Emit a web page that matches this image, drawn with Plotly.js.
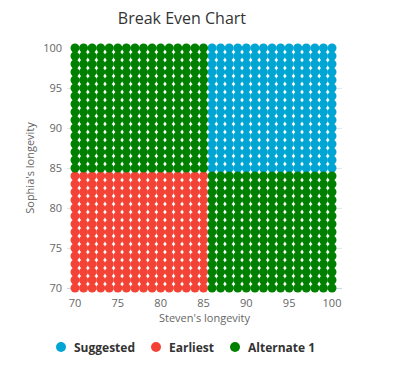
<!DOCTYPE html>
<html>
<head>
<meta charset="utf-8">
<script src="https://cdn.plot.ly/plotly-3.0.1.min.js"></script>
<style>html,body{margin:0;padding:0;background:#fff;}#chart{width:393px;height:382px;}</style>
</head>
<body>
<div id="chart"></div>
<script>
// Steven's longevity values (x) and Sophia's longevity values (y)
var stevenAges = [70,71,72,73,74,75,76,77,78,79,80,81,82,83,84,85,86,87,88,89,90,91,92,93,94,95,96,97,98,99,100];
var sophiaAges = [70,71,72,73,74,75,76,77,78,79,80,81,82,83,84,85,86,87,88,89,90,91,92,93,94,95,96,97,98,99,100];
// break-even boundaries
var earliestMaxSteven = 85;
var earliestMaxSophia = 84;
var seriesNames = ["Suggested", "Earliest", "Alternate 1"];
var seriesColors = ["#00a5d4", "#f34336", "#008000"];
var xTicks = [70,75,80,85,90,95,100];
var yTicks = [70,75,80,85,90,95,100];

var pts = {0:{x:[],y:[]},1:{x:[],y:[]},2:{x:[],y:[]}};
stevenAges.forEach(function(sx){
  sophiaAges.forEach(function(sy){
    var k;
    if (sx > earliestMaxSteven && sy > earliestMaxSophia) k = 0;
    else if (sx <= earliestMaxSteven && sy <= earliestMaxSophia) k = 1;
    else k = 2;
    pts[k].x.push(sx); pts[k].y.push(sy);
  });
});

var font = "Open Sans, DejaVu Sans, sans-serif";
var traces = [0,1,2].map(function(k){
  return {
    type: "scatter", mode: "markers",
    name: seriesNames[k],
    x: pts[k].x, y: pts[k].y,
    cliponaxis: false,
    marker: {color: seriesColors[k], size: 9, line: {width: 0}},
    hoverinfo: "x+y+name"
  };
});

// legend drawn as shapes + annotations (positions in pixels of the 393x382 page)
var W = 393, H = 382, ML = 67, MR = 51, MT = 48, MB = 94;
var pw = W - ML - MR, ph = H - MT - MB;
var legendDotX = [61, 156, 235];
var legendY = 347;
function px2paperX(p){ return (p - ML) / pw; }
function px2paperY(p){ return (H - MB - p) / ph; }
var shapes = [], annotations = [];
seriesNames.forEach(function(n, i){
  shapes.push({type: "circle", xref: "paper", yref: "paper", xsizemode: "pixel", ysizemode: "pixel",
    xanchor: px2paperX(legendDotX[i]), yanchor: px2paperY(legendY),
    x0: -5, x1: 5, y0: -5, y1: 5, fillcolor: seriesColors[i], line: {width: 0}});
  annotations.push({xref: "paper", yref: "paper", x: px2paperX(legendDotX[i] + 11), y: px2paperY(legendY),
    xanchor: "left", yanchor: "middle", showarrow: false, text: "<b>" + n + "</b>",
    font: {family: font, size: 12, color: "#333"}});
});

var layout = {
  width: W, height: H,
  paper_bgcolor: "#fff", plot_bgcolor: "#fff",
  margin: {l: ML, r: MR, t: MT, b: MB},
  font: {family: font, color: "#666"},
  title: {text: "Break Even Chart", font: {family: font, size: 16, color: "#333"},
          xref: "container", x: 0.463, xanchor: "center", yref: "container", y: 0.953, yanchor: "middle"},
  xaxis: {
    range: [69.066, 101.167], tickvals: xTicks, ticks: "", showgrid: false, zeroline: false,
    showline: true, linecolor: "#ccd6eb", linewidth: 1, layer: "below traces",
    tickfont: {size: 11, color: "#666"}, ticklabelstandoff: 5,
    title: {text: "Steven's longevity", font: {size: 11, color: "#666"}, standoff: 5}
  },
  yaxis: {
    range: [70, 100], tickvals: yTicks, ticks: "", showgrid: true, gridcolor: "#e6e6e6",
    zeroline: false, showline: false, layer: "below traces",
    tickfont: {size: 11, color: "#666"}, ticklabelstandoff: 4,
    title: {text: "Sophia's longevity", font: {size: 11, color: "#666"}, standoff: 6}
  },
  showlegend: false,
  shapes: shapes,
  annotations: annotations,
  hovermode: "closest"
};

Plotly.newPlot("chart", traces, layout, {displayModeBar: false});
</script>
</body>
</html>
